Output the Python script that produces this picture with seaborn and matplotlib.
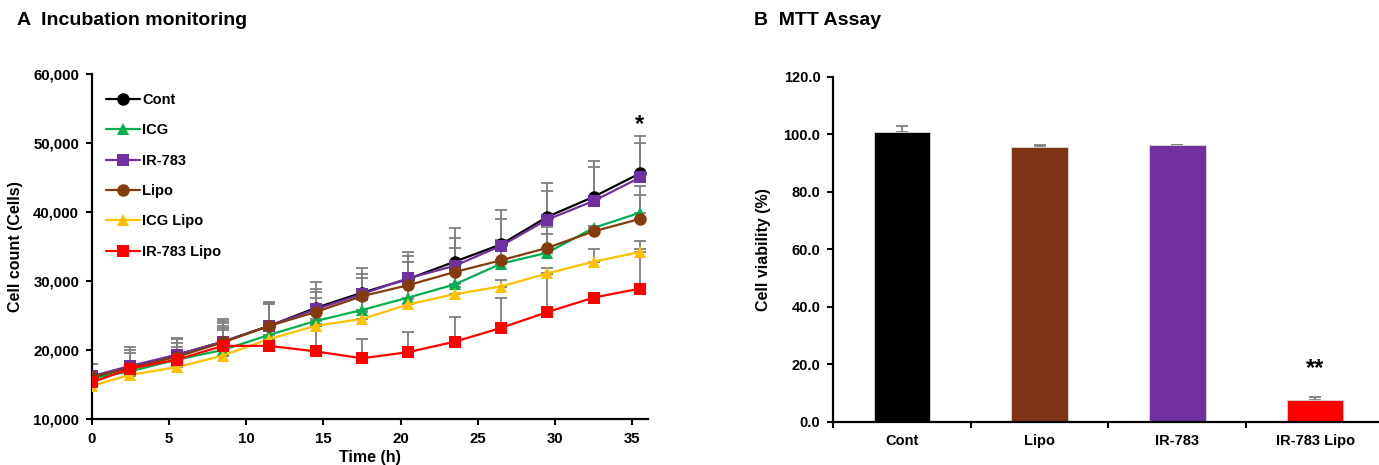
import numpy as np
import pandas as pd
import matplotlib
matplotlib.use("Agg")
import matplotlib.pyplot as plt
from matplotlib.lines import Line2D
from matplotlib.ticker import FuncFormatter, FixedLocator
import seaborn as sns

# ---------------- data ----------------
times = [0, 2.5, 5.5, 8.5, 11.5, 14.5, 17.5, 20.5, 23.5, 26.5, 29.5, 32.5, 35.5]
groups = ["Cont", "ICG", "IR-783", "Lipo", "ICG Lipo", "IR-783 Lipo"]

cont = [16000, 17500, 19300, 21200, 23500, 26100, 28300, 30300, 32800, 35300, 39300, 42200, 45600]
icg = [15900, 16900, 18600, 20000, 22200, 24200, 25800, 27600, 29500, 32500, 34100, 37700, 39900]
ir783 = [16200, 17700, 19300, 21200, 23500, 25900, 28100, 30400, 32200, 35100, 38900, 41600, 45000]
lipo = [16100, 17400, 19000, 21100, 23500, 25500, 27800, 29400, 31300, 33000, 34800, 37200, 39000]
icg_lipo = [14800, 16400, 17500, 19200, 21600, 23500, 24500, 26600, 28100, 29200, 31100, 32800, 34200]
ir783_lipo = [15300, 17300, 18600, 20600, 20600, 19800, 18800, 19700, 21200, 23200, 25500, 27600, 28900]

cont_err = [2000, 2900, 2500, 3300, 3400, 3700, 3630, 3950, 4900, 5000, 4950, 5190, 5460]
icg_err = [500, 1500, 1800, 3500, 2000, 3400, 1500, 1500, 1500, 2000, 2660, 300, 3870]
ir783_err = [1800, 2300, 2300, 3000, 3300, 2900, 2900, 3200, 4100, 3850, 4140, 4880, 5040]
lipo_err = [500, 2200, 2000, 2800, 3100, 2950, 2600, 3400, 3500, 3000, 2980, 760, 3460]
icg_lipo_err = [500, 800, 1200, 4000, 1500, 1000, 1000, 800, 1000, 1000, 740, 1840, 500]
ir783_lipo_err = [500, 1000, 1000, 2300, 300, 4000, 2800, 2900, 3630, 4350, 5500, 500, 6900]

mtt_groups = ["Cont", "Lipo", "IR-783", "IR-783 Lipo"]
mtt_values = [101.0, 95.6, 96.2, 7.8]
mtt_errors = [2.1, 0.9, 0.3, 0.9]

x_ticks = [0, 5, 10, 15, 20, 25, 30, 35]
y_ticks_a = [10000, 20000, 30000, 40000, 50000, 60000]
y_ticks_b = [0, 20, 40, 60, 80, 100, 120]

# ---------------- style ----------------
sns.set_theme(style="ticks")
plt.rcParams["font.family"] = ["Liberation Sans", "DejaVu Sans"]
plt.rcParams["font.weight"] = "bold"
plt.rcParams["axes.labelweight"] = "bold"
for k in ["text.color", "axes.labelcolor", "xtick.color", "ytick.color", "axes.edgecolor"]:
    plt.rcParams[k] = "black"

palette = {"Cont": "#000000", "ICG": "#00B050", "IR-783": "#7030A0",
           "Lipo": "#843C0C", "ICG Lipo": "#FFC000", "IR-783 Lipo": "#FF0000"}
markers = {"Cont": "o", "ICG": "^", "IR-783": "s", "Lipo": "o",
           "ICG Lipo": "^", "IR-783 Lipo": "s"}
bar_colors = {"Cont": "#000000", "Lipo": "#7F3315", "IR-783": "#7030A0", "IR-783 Lipo": "#FF0000"}

series = [cont, icg, ir783, lipo, icg_lipo, ir783_lipo]
errs = [cont_err, icg_err, ir783_err, lipo_err, icg_lipo_err, ir783_lipo_err]

df = pd.DataFrame({
    "Time": np.tile(times, len(groups)),
    "Count": np.concatenate(series),
    "Group": np.repeat(groups, len(times)),
})

fig = plt.figure(figsize=(13.79, 4.65), dpi=100)
axA = fig.add_axes([0.0665, 0.0989, 0.4032, 0.742])
axB = fig.add_axes([0.6040, 0.0925, 0.3996, 0.742])

# ---------------- panel A ----------------
for g, y, e in zip(groups, series, errs):
    axA.errorbar(times, y, yerr=[np.zeros(len(e)), e], fmt="none",
                 ecolor="#7f7f7f", elinewidth=1.3, capsize=4, capthick=1.3, zorder=1)

sns.lineplot(data=df, x="Time", y="Count", hue="Group", style="Group",
             hue_order=groups, style_order=groups, palette=palette,
             markers=markers, dashes=False, markersize=9, markeredgewidth=0,
             linewidth=1.6, legend=False, ax=axA, zorder=3)

axA.set_xlim(0, 36)
axA.set_ylim(10000, 60000)
axA.xaxis.set_major_locator(FixedLocator(x_ticks))
axA.yaxis.set_major_locator(FixedLocator(y_ticks_a))
axA.yaxis.set_major_formatter(FuncFormatter(lambda v, p: f"{int(v):,}"))
axA.set_xlabel("Time (h)", fontsize=11.5, fontweight="bold", labelpad=3)
axA.set_ylabel("Cell count (Cells)", fontsize=11.5, fontweight="bold", labelpad=7)
axA.tick_params(axis="both", labelsize=10.8, width=1.5, length=4, direction="out", pad=5)
for lab in axA.get_xticklabels() + axA.get_yticklabels():
    lab.set_fontweight("bold")
sns.despine(ax=axA)
for s in ["left", "bottom"]:
    axA.spines[s].set_linewidth(1.6)
    axA.spines[s].set_color("black")

handles = [Line2D([], [], color=palette[g], marker=markers[g], markersize=9,
                  markeredgewidth=0, linewidth=1.6) for g in groups]
axA.legend(handles, groups, loc="upper left", bbox_to_anchor=(0.01, 0.97), frameon=False,
           prop={"weight": "bold", "size": 10.5}, labelspacing=1.12, handlelength=2.3,
           handletextpad=0.2, borderaxespad=0.2)

axA.text(35.5, 51000, "*", ha="center", va="bottom", fontsize=17, fontweight="bold")

# ---------------- panel B ----------------
sns.barplot(x=mtt_groups, y=mtt_values, hue=mtt_groups, palette=bar_colors,
            order=mtt_groups, hue_order=mtt_groups, legend=False, width=0.41,
            saturation=1, edgecolor="#d9d9d9", linewidth=0.6, ax=axB, zorder=2)
axB.errorbar(range(len(mtt_groups)), mtt_values,
             yerr=[np.zeros(len(mtt_errors)), mtt_errors], fmt="none",
             ecolor="#7f7f7f", elinewidth=1.3, capsize=4, capthick=1.3, zorder=1)
axB.set_xlim(-0.5, 3.5)
axB.set_ylim(0, 120)
axB.yaxis.set_major_locator(FixedLocator(y_ticks_b))
axB.yaxis.set_major_formatter(FuncFormatter(lambda v, p: f"{v:.1f}"))
axB.set_xticks(range(len(mtt_groups)))
axB.set_xticklabels(mtt_groups)
axB.set_xticks([-0.5, 0.5, 1.5, 2.5, 3.5], minor=True)
axB.tick_params(axis="x", which="major", length=0, labelsize=10.5, pad=9)
axB.tick_params(axis="x", which="minor", length=4, width=1.5, direction="out")
axB.tick_params(axis="y", labelsize=10.5, width=1.5, length=4, direction="out", pad=5)
for lab in axB.get_xticklabels() + axB.get_yticklabels():
    lab.set_fontweight("bold")
axB.set_xlabel("")
axB.set_ylabel("Cell viability (%)", fontsize=11.5, fontweight="bold", labelpad=9)
sns.despine(ax=axB)
for s in ["left", "bottom"]:
    axB.spines[s].set_linewidth(1.6)
    axB.spines[s].set_color("black")
axB.text(3, 14.5, "**", ha="center", va="bottom", fontsize=17, fontweight="bold")

# ---------------- titles ----------------
fig.text(0.0125, 0.955, "A  Incubation monitoring", fontsize=14, fontweight="bold",
         ha="left", va="center")
fig.text(0.5465, 0.955, "B  MTT Assay", fontsize=14, fontweight="bold",
         ha="left", va="center")

fig.savefig("out.png", dpi=100)
